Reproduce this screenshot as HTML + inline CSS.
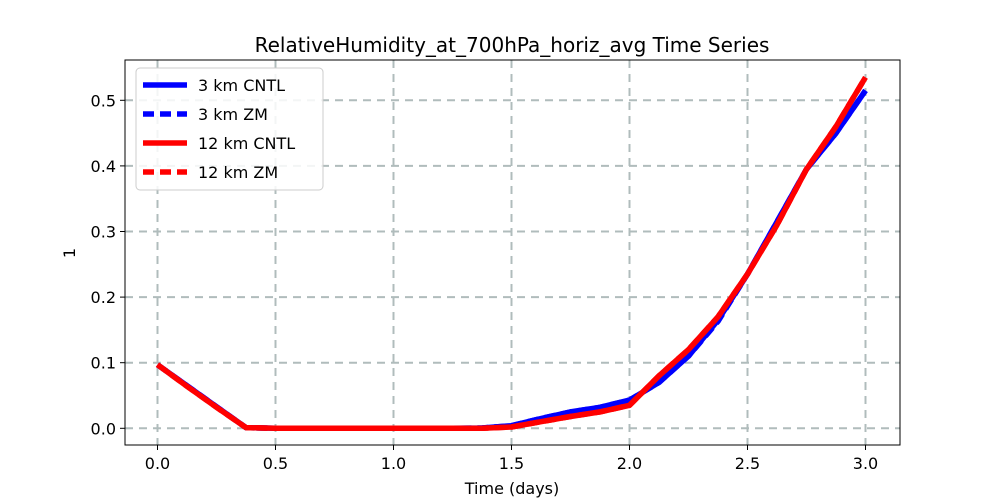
<!DOCTYPE html>
<html><head><meta charset="utf-8"><style>
body{margin:0;background:#fff;font-family:"DejaVu Sans","Liberation Sans",sans-serif}
</style></head><body>
<svg id="chart" width="1000" height="500" xmlns="http://www.w3.org/2000/svg" font-family="DejaVu Sans, Liberation Sans, sans-serif">
<rect width="1000" height="500" fill="#fff"/>
<g id="grid"></g>
<g id="lines"></g>
<rect x="125" y="60" width="775" height="385" fill="none" stroke="#000" stroke-width="1"/>
<g id="ticks"></g>
<text x="512" y="52" font-size="20" text-anchor="middle">RelativeHumidity_at_700hPa_horiz_avg Time Series</text>
<text x="512" y="494" font-size="16" text-anchor="middle">Time (days)</text>
<text x="75" y="253" font-size="16" text-anchor="middle" transform="rotate(-90 75 253)">1</text>
<g>
<rect x="136" y="68" width="187" height="122" rx="4" fill="#fff" fill-opacity="0.85" stroke="#ccc"/>
<line x1="143" y1="85" x2="187" y2="85" stroke="#0000ff" stroke-width="5.5"/>
<text x="198" y="91" font-size="16">3 km CNTL</text>
<line x1="143" y1="114" x2="187" y2="114" stroke="#0000ff" stroke-width="5.5" stroke-dasharray="11,6"/>
<text x="198" y="120" font-size="16">3 km ZM</text>
<line x1="143" y1="143" x2="187" y2="143" stroke="#ff0000" stroke-width="5.5"/>
<text x="198" y="149" font-size="16">12 km CNTL</text>
<line x1="143" y1="172" x2="187" y2="172" stroke="#ff0000" stroke-width="5.5" stroke-dasharray="11,6"/>
<text x="198" y="178" font-size="16">12 km ZM</text>
</g>
</svg>
<script>
const times=[0,0.125,0.25,0.375,0.5,0.625,0.75,0.875,1,1.125,1.25,1.375,1.5,1.625,1.75,1.875,2,2.125,2.25,2.375,2.5,2.625,2.75,2.875,3];
const cntl3=[0.097,0.065,0.033,0.001,0,0,0,0,0,0,0,0.0005,0.004,0.015,0.025,0.032,0.043,0.07,0.11,0.165,0.235,0.315,0.395,0.45,0.515];
const zm3=[0.097,0.065,0.033,0.001,0,0,0,0,0,0,0,0.0005,0.004,0.015,0.025,0.032,0.043,0.07,0.11,0.163,0.235,0.315,0.395,0.45,0.515];
const cntl12=[0.097,0.064,0.032,0.001,0,0,0,0,0,0,0,0,0.002,0.01,0.018,0.025,0.035,0.08,0.12,0.17,0.235,0.31,0.395,0.46,0.535];
const zm12=[0.097,0.064,0.032,0.001,0,0,0,0,0,0,0,0,0.002,0.01,0.018,0.025,0.035,0.08,0.12,0.17,0.235,0.31,0.395,0.46,0.535];
const xTicks=["0.0","0.5","1.0","1.5","2.0","2.5","3.0"];
const yTicks=["0.0","0.1","0.2","0.3","0.4","0.5"];
const NS="http://www.w3.org/2000/svg";
const xS=v=>157.5+v*236;
const yS=v=>428.3-v*656;
const grid=document.getElementById('grid'),ticks=document.getElementById('ticks'),lines=document.getElementById('lines');
function mk(t,a,p){const e=document.createElementNS(NS,t);for(const k in a)e.setAttribute(k,a[k]);p.appendChild(e);return e;}
xTicks.forEach(s=>{const x=xS(parseFloat(s));
 const g=mk('line',{x1:x,x2:x,y1:60,y2:445,stroke:'#b0bcbc',"stroke-width":2,"stroke-dasharray":"8,6"},grid);
 
 
 const t=mk('line',{x1:x,x2:x,y1:445,y2:450,stroke:'#000'},ticks);
 
 
 const l=mk('text',{x:x,y:469,"font-size":16,"text-anchor":"middle"},ticks);l.textContent=s;
 
 
});
yTicks.forEach(s=>{const y=yS(parseFloat(s));
 const g=mk('line',{x1:125,x2:900,y1:y,y2:y,stroke:'#b0bcbc',"stroke-width":2,"stroke-dasharray":"8,6"},grid);
 
 
 const t=mk('line',{x1:120,x2:125,y1:y,y2:y,stroke:'#000'},ticks);
 
 
 const l=mk('text',{x:116,y:y+6,"font-size":16,"text-anchor":"end"},ticks);l.textContent=s;
 
 
});
function series(vals,color,dash,name){
 const d=vals.map((v,i)=>(i?'L':'M')+xS(times[i]).toFixed(1)+','+yS(v).toFixed(1)).join(' ');
 const p=mk('path',{d:d,fill:'none',stroke:color,"stroke-width":5.5,"stroke-linejoin":"round"},lines);
 if(dash)p.setAttribute('stroke-dasharray','11,6');
 
 
}
series(cntl3,'#0000ff',false,'line-3km-cntl');
series(zm3,'#0000ff',true,'line-3km-zm');
series(cntl12,'#ff0000',false,'line-12km-cntl');
series(zm12,'#ff0000',true,'line-12km-zm');
</script>
</body></html>
